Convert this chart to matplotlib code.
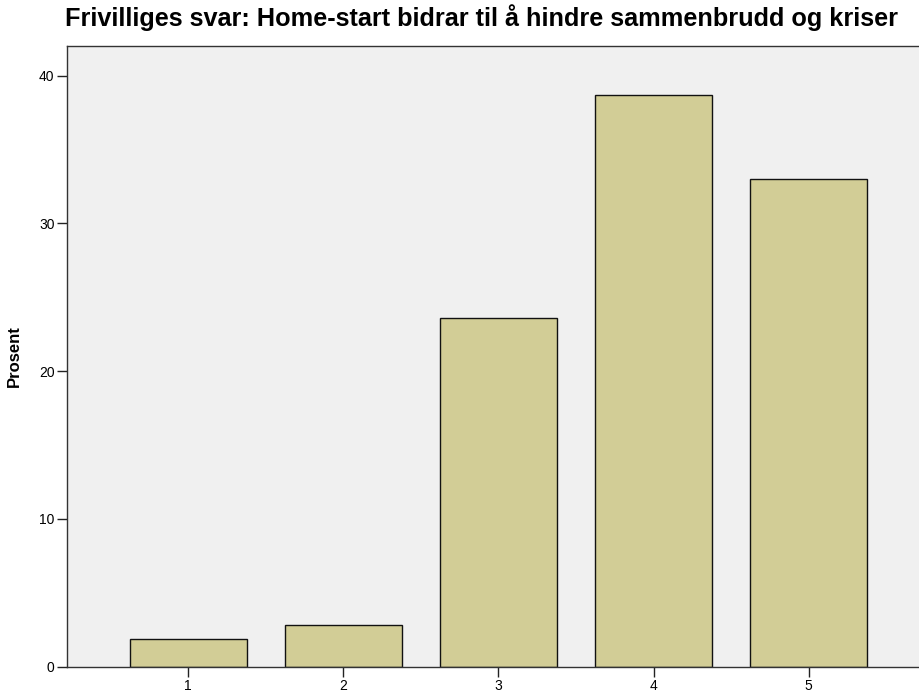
import matplotlib
matplotlib.use("Agg")
import matplotlib.pyplot as plt

categories = ["1", "2", "3", "4", "5"]
percent = [1.9, 2.8, 23.6, 38.7, 33.0]
yticks = [0, 10, 20, 30, 40]

plt.rcParams['font.family'] = ['Liberation Sans', 'DejaVu Sans']

fig = plt.figure(figsize=(9.2, 6.95), dpi=100)
ax = fig.add_axes([67/920, (695-666.7)/695, 1 - 67/920, (666.7-46)/695])
ax.set_facecolor('#F0F0F0')

x = list(range(1, len(categories) + 1))
ax.bar(x, percent, width=0.753, color='#D2CD96', edgecolor='#111111', linewidth=1.0, zorder=2)

ax.set_xlim(0.219, 5.718)
ax.set_ylim(0, 42.0)
ax.set_xticks(x)
ax.set_xticklabels(categories)
ax.set_yticks(yticks)
ax.tick_params(axis='both', direction='out', length=7, width=1, labelsize=10, color='#222222', pad=2)

for s in ['left', 'top', 'bottom']:
    ax.spines[s].set_color('#333333')
    ax.spines[s].set_linewidth(1.0)
ax.spines['right'].set_visible(False)

ax.set_ylabel('Prosent', fontsize=12, fontweight='bold', labelpad=12)
fig.text(482/920, 1 - 18/695, 'Frivilliges svar: Home-start bidrar til å hindre sammenbrudd og kriser',
         ha='center', va='center', fontsize=18.2, fontweight='bold')

fig.savefig('out.png', dpi=100)
